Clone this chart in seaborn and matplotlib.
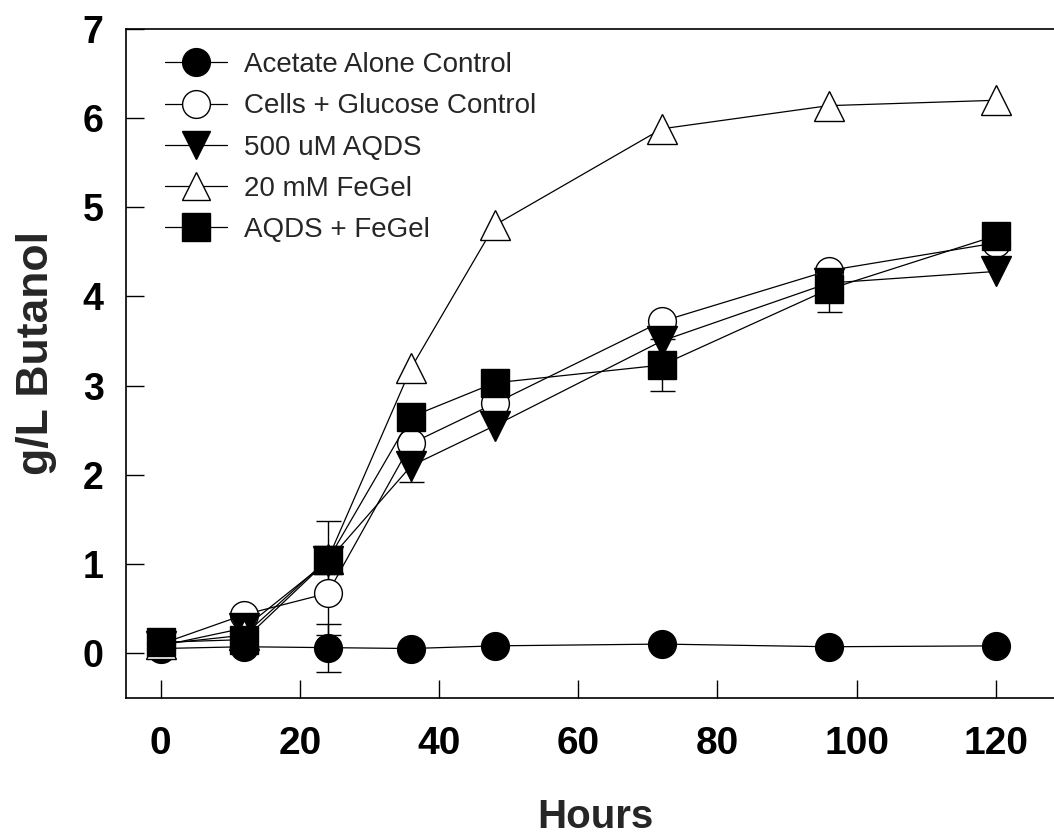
import numpy as np
import pandas as pd
import matplotlib
matplotlib.use("Agg")
import matplotlib.pyplot as plt
import seaborn as sns

# ---- data ----
hours = [0, 12, 24, 36, 48, 72, 96, 120]
series_names = ["Acetate Alone Control", "Cells + Glucose Control",
                "500 uM AQDS", "20 mM FeGel", "AQDS + FeGel"]
acetate = [0.05, 0.07, 0.06, 0.05, 0.08, 0.10, 0.07, 0.08]
acetate_err = [0, 0, 0.27, 0, 0, 0, 0, 0]
glucose = [0.10, 0.43, 0.67, 2.35, 2.80, 3.72, 4.29, 4.60]
glucose_err = [0, 0, 0.47, 0, 0, 0, 0, 0]
aqds = [0.08, 0.28, 1.03, 2.10, 2.55, 3.50, 4.15, 4.28]
aqds_err = [0, 0, 0, 0.18, 0, 0, 0, 0]
fegel = [0.10, 0.20, 1.05, 3.20, 4.80, 5.88, 6.14, 6.20]
fegel_err = [0, 0, 0, 0, 0, 0, 0, 0]
combo = [0.12, 0.15, 1.04, 2.65, 3.03, 3.23, 4.08, 4.68]
combo_err = [0, 0, 0.44, 0, 0, 0.29, 0.25, 0]
x_ticks = [0, 20, 40, 60, 80, 100, 120]
y_ticks = [0, 1, 2, 3, 4, 5, 6, 7]

values = [acetate, glucose, aqds, fegel, combo]
errors = [acetate_err, glucose_err, aqds_err, fegel_err, combo_err]
markers = ["o", "o", "v", "^", "s"]
faces = ["black", "white", "black", "white", "black"]
msizes = [20, 20, 21, 22, 20]

sns.set_style("ticks")
plt.rcParams["font.family"] = ["Liberation Sans", "DejaVu Sans"]

fig = plt.figure(figsize=(10.54, 8.35), dpi=100)
ax = fig.add_axes([0.1195, 0.1646, 0.8913, 0.8007])

for i, (name, vals, errs) in enumerate(zip(series_names, values, errors)):
    df = pd.DataFrame({"Hours": hours, "val": vals, "err": errs})
    e = df[df["err"] > 0]
    if len(e):
        ax.errorbar(e["Hours"], e["val"], yerr=e["err"], fmt="none",
                    ecolor="black", elinewidth=1.0, capsize=9, capthick=1.0,
                    zorder=1.9)
    sns.lineplot(data=df, x="Hours", y="val", ax=ax, color="black",
                 linewidth=0.9, marker=markers[i], markersize=msizes[i],
                 markerfacecolor=faces[i], markeredgecolor="black",
                 markeredgewidth=1.0, label=name, zorder=2.1 + i * 0.2,
                 estimator=None, errorbar=None)

ax.set_xlim(-5, 130)
ax.set_ylim(-0.5, 7)
ax.set_xticks(x_ticks)
ax.set_yticks(y_ticks)
ax.tick_params(direction="in", length=13, width=1.0, colors="black")
ax.tick_params(axis="x", labelsize=28, pad=20.5)
ax.tick_params(axis="y", labelsize=27, pad=16)
for lab in ax.get_xticklabels() + ax.get_yticklabels():
    lab.set_fontweight("bold")
for s in ax.spines.values():
    s.set_linewidth(1.2)
    s.set_color("black")

ax.set_xlabel("Hours", fontsize=29, fontweight="bold", labelpad=26)
ax.set_ylabel("g/L Butanol", fontsize=32, fontweight="bold")
ax.yaxis.set_label_coords(-0.073, 0.515)

leg = ax.legend(loc="upper left", bbox_to_anchor=(0.0415, 0.9655),
                frameon=False, fontsize=20, handlelength=2.25,
                handletextpad=0.6, labelspacing=0.55, borderpad=0,
                borderaxespad=0)
for h in leg.legend_handles:
    h.set_markersize(20)

fig.savefig("out.png", dpi=100)
